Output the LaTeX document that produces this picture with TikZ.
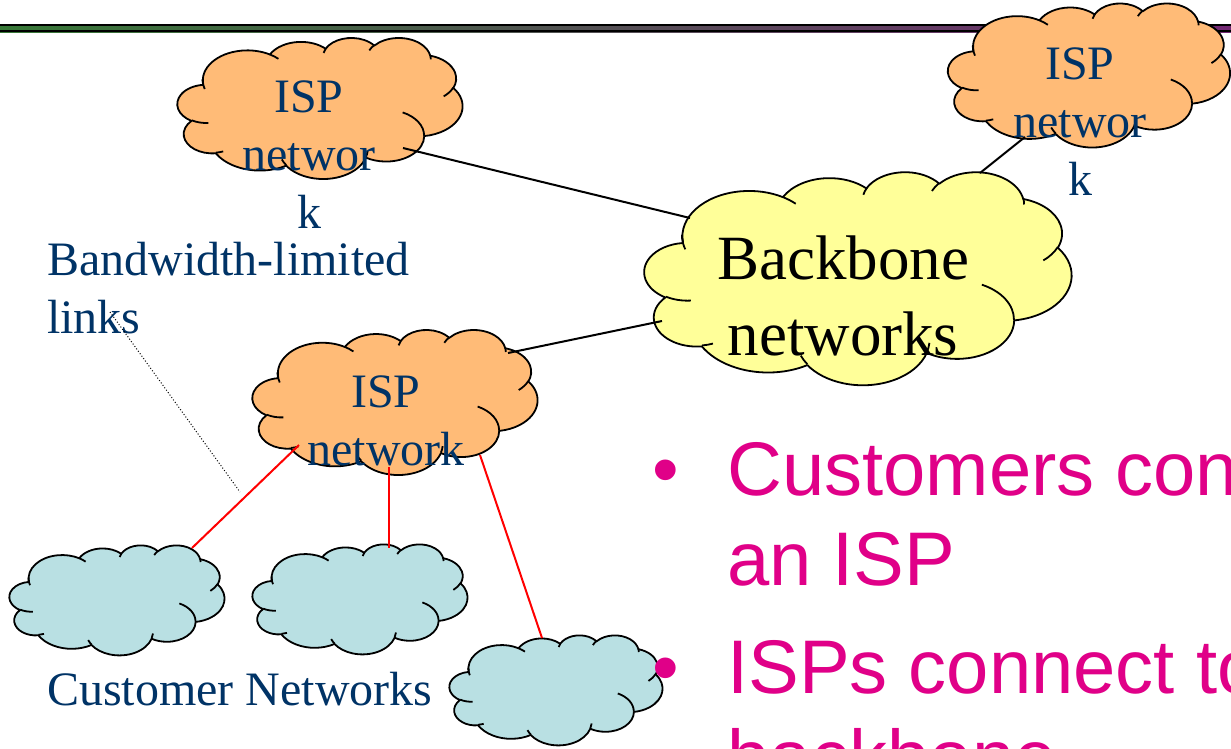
\documentclass[tikz,border=0pt]{standalone}
\usepackage{fontspec}
\setmainfont{Liberation Serif}
\newfontfamily\arialfont{Liberation Sans}
\usetikzlibrary{shapes.geometric,calc}
\definecolor{navy}{RGB}{0,51,102}
\definecolor{ispor}{RGB}{255,187,119}
\definecolor{bbyel}{RGB}{255,255,153}
\definecolor{custbl}{RGB}{185,224,227}
\definecolor{pinkt}{RGB}{224,0,136}
\definecolor{bargreen}{RGB}{55,120,55}
\definecolor{barpurple}{RGB}{115,40,115}

% point of the 432 x 432 cloud frame, mapped into the cloud box (y down)
\newcommand\cpt[2]{\pgfpoint{\cldx pt + #1/432*\cldw pt}{0pt - \cldy pt - #2/432*\cldh pt}}
% elliptic arc given by radii and visual start angle / sweep (degrees, y down)
\newcommand\ooarc[4]{%
  \pgfmathsetmacro\oota{atan2(#1*sin(#3), #2*cos(#3))}%
  \pgfmathsetmacro\ootb{atan2(#1*sin(#3+#4), #2*cos(#3+#4))}%
  \pgfmathsetmacro\ootb{(#4>0)*(\ootb<\oota)*360 - (#4<0)*(\ootb>\oota)*360 + \ootb}%
  \pgfmathsetmacro\oona{0-(\oota)}%
  \pgfmathsetmacro\oonb{0-(\ootb)}%
  \pgfmathsetmacro\oorx{#1/100/432*\cldw}%
  \pgfmathsetmacro\oory{#2/100/432*\cldh}%
  \pgfpatharc{\oona}{\oonb}{\oorx pt and \oory pt}}
\newcommand\cloudoutline{%
  \pgfpathmoveto{\cpt{39.00}{143.70}}%
  \ooarc{6753}{9190}{-190.4875}{123.7805}%
  \ooarc{5333}{7267}{-144.1024}{89.9452}%
  \ooarc{4365}{5945}{-145.8079}{99.7230}%
  \ooarc{4857}{6595}{-130.9861}{117.2417}%
  \ooarc{5333}{7273}{-78.7089}{109.0269}%
  \ooarc{6775}{9220}{-46.2673}{130.2690}%
  \ooarc{5785}{7867}{0.6250}{114.0333}%
  \ooarc{6752}{9215}{22.4516}{115.1726}%
  \ooarc{7720}{10543}{66.2426}{75.7110}%
  \ooarc{4360}{5918}{-274.9421}{146.7356}%
  \ooarc{4345}{5945}{-246.8285}{152.5189}%
  \pgfpathclose}
\newcommand\cloudcreases{%
  \pgfpathmoveto{\cpt{46.93}{261.77}}\ooarc{4345}{5945}{86.7420}{26.4295}%
  \pgfpathmoveto{\cpt{69.28}{348.99}}\ooarc{4360}{5918}{73.6105}{11.4475}%
  \pgfpathmoveto{\cpt{164.78}{390.90}}\ooarc{6752}{9215}{137.6242}{14.0811}%
  \pgfpathmoveto{\cpt{288.27}{347.51}}\ooarc{6752}{9215}{6.4533}{15.9984}%
  \pgfpathmoveto{\cpt{341.29}{229.54}}\ooarc{5785}{7867}{-70.2924}{70.9174}%
  \pgfpathmoveto{\cpt{417.98}{153.54}}\ooarc{5333}{7273}{30.3180}{27.7515}%
  \pgfpathmoveto{\cpt{383.24}{54.26}}\ooarc{4857}{6595}{-13.7443}{14.8589}%
  \pgfpathmoveto{\cpt{290.78}{39.52}}\ooarc{4857}{6595}{-149.1815}{18.1954}%
  \pgfpathmoveto{\cpt{221.41}{47.20}}\ooarc{4365}{5945}{-163.4943}{17.6864}%
  \pgfpathmoveto{\cpt{140.00}{51.92}}\ooarc{6753}{9190}{-66.7070}{12.3194}%
  \pgfpathmoveto{\cpt{41.27}{157.89}}\ooarc{6753}{9190}{155.8406}{25.1850}}
% name, cx, cy, width, height, fill colour
\newcommand\pptcloud[6]{%
  \node[cloudslot, minimum width=#4, minimum height=#5] (#1) at (#2,#3) {};
  \pgfmathsetmacro\cldx{#2-#4/2}\pgfmathsetmacro\cldy{#3-#5/2}%
  \def\cldw{#4}\def\cldh{#5}%
  \begin{pgfscope}
    \pgfsetlinewidth{1.8pt}\pgfsetroundjoin
    \pgfsetstrokecolor{black}\pgfsetfillcolor{#6}%
    \cloudoutline\pgfusepath{fill,stroke}%
    \cloudcreases\pgfusepath{stroke}%
  \end{pgfscope}}

\begin{document}
\begin{tikzpicture}[x=1pt,y=-1pt,
  cloudslot/.style={ellipse, inner sep=0pt, outer sep=0pt},
  navytext/.style={text=navy, font=\fontsize{48}{58}\selectfont, align=center, inner sep=0pt},
  pinktext/.style={text=pinkt, font=\arialfont\fontsize{76}{88}\selectfont, inner sep=0pt, anchor=base west},
  link/.style={draw=black, line width=2pt},
  custlink/.style={draw=red, line width=2pt},
  callout/.style={draw=black, line width=1pt, dotted}
]
\useasboundingbox (0,0) rectangle (1231,748);
\clip (0,0) rectangle (1231,748);
\fill[white] (0,0) rectangle (1231,748);

% title bar
\shade[left color=bargreen, right color=barpurple] (0,24) rectangle (1231,32);
\draw[line width=2pt] (0,25) -- (1231,25);
\draw[line width=2pt] (0,31) -- (1231,31);

% clouds
\pptcloud{tl}{320}{108}{285}{141}{ispor}
\pptcloud{tr}{1089}{75}{282}{144}{ispor}
\pptcloud{bb}{858}{278}{427}{213}{bbyel}
\pptcloud{bisp}{395}{402}{285}{145}{ispor}
\pptcloud{c1}{117}{600}{215}{110}{custbl}
\pptcloud{c2}{360}{599}{215}{110}{custbl}
\pptcloud{c3}{556}{690}{213}{110}{custbl}

% connectors
\draw[link] ($(tl.center)+(83,40)$) -- ($(bb.center)+(-168,-60)$);
\draw[link] ($(tr.center)+(-64,62)$) -- ($(bb.center)+(122,-105)$);
\draw[link] ($(bb.center)+(-196,43)$) -- ($(bisp.center)+(113,-49)$);
\draw[custlink] ($(bisp.center)+(-96,43)$) -- ($(c1.center)+(75,-52)$);
\draw[custlink] ($(bisp.center)+(-6,65)$) -- ($(c2.center)+(29,-51)$);
\draw[custlink] ($(bisp.center)+(85,53)$) -- ($(c3.center)+(-14,-52)$);

% texts
\node[navytext] (tltxt) at (309,155) {ISP\\networ\\k};
\node[navytext] (trtxt) at (1080,122) {ISP\\networ\\k};
\node[navytext] (bisptxt) at (386,421) {ISP\\network};
\node[text=black, font=\fontsize{63}{76}\selectfont, align=center, inner sep=0pt] (bbtxt) at (843,296) {Backbone\\networks};
\node[navytext, align=left, anchor=north west] (bwl) at (47,242) {Bandwidth-limited\\links};
\node[navytext, anchor=base west] (custlbl) at (47,705) {Customer Networks};

% callout
\coordinate (dotstart) at (110,312);
\coordinate (dotend) at (240,492);
\draw[callout] (dotstart) -- (dotend);

% bullets
\node[pinktext] (b1) at (652,495) {\textbullet};
\node[pinktext] (l1) at (727,495) {Customers con};
\node[pinktext] (l2) at (727,585) {an ISP};
\node[pinktext] (b2) at (652,693) {\textbullet};
\node[pinktext] (l3) at (727,693) {ISPs connect to};
\node[pinktext] (l4) at (727,783) {backbone};
\end{tikzpicture}
\end{document}
